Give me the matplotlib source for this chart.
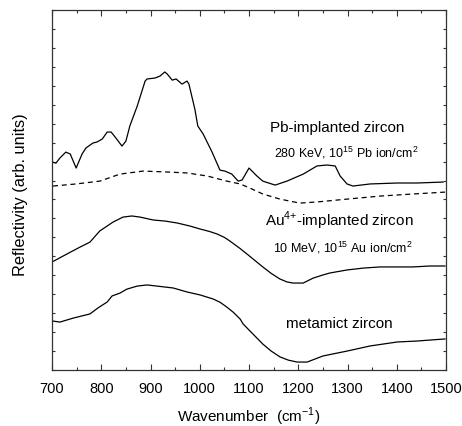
import numpy as np
import matplotlib.pyplot as plt
from matplotlib.ticker import MultipleLocator, NullFormatter

plt.rcParams['font.family'] = ['Liberation Sans', 'DejaVu Sans']
plt.rcParams['mathtext.fontset'] = 'custom'
plt.rcParams['mathtext.rm'] = 'Liberation Sans'

# Pb-implanted zircon (280 keV)
pb_wn = [700, 708, 716, 728, 737, 749, 761, 769, 783, 791, 802, 812, 820, 828,
         842, 850, 858, 873, 889, 893, 909, 919, 929, 934, 944, 952, 964, 974,
         978, 990, 996, 1007, 1025, 1041, 1051, 1065, 1078, 1086, 1100, 1116,
         1128, 1153, 1177, 1210, 1238, 1258, 1275, 1285, 1299, 1311, 1346,
         1401, 1441, 1494]
pb_r = [10.98, 10.92, 11.19, 11.50, 11.40, 10.66, 11.40, 11.72, 11.98, 12.03,
        12.19, 12.56, 12.56, 12.30, 11.82, 12.08, 12.88, 13.93, 15.25, 15.36,
        15.41, 15.51, 15.73, 15.62, 15.30, 15.36, 15.09, 15.25, 15.09, 13.77,
        12.88, 12.45, 11.50, 10.55, 10.50, 10.34, 9.97, 10.03, 10.66, 10.24,
        9.97, 9.76, 9.97, 10.34, 10.77, 10.82, 10.77, 10.24, 9.82, 9.71, 9.82,
        9.87, 9.87, 9.92]

# dashed reference curve
ref_wn = [702, 749, 797, 838, 885, 934, 974, 1015, 1055, 1082, 1102, 1128,
          1163, 1203, 1238, 1299, 1366, 1433, 1498]
ref_r = [9.71, 9.82, 9.97, 10.34, 10.50, 10.45, 10.40, 10.24, 9.97, 9.82, 9.60,
         9.29, 9.02, 8.81, 8.87, 9.02, 9.18, 9.29, 9.39]

# Au4+-implanted zircon (10 MeV)
au_wn = [700, 730, 757, 777, 797, 812, 824, 844, 862, 879, 905, 930, 954, 980,
         1001, 1020, 1035, 1050, 1061, 1080, 1096, 1112, 1128, 1145, 1163,
         1177, 1189, 1210, 1230, 1248, 1264, 1299, 1332, 1366, 1401, 1433,
         1467, 1498]
au_r = [5.70, 6.12, 6.49, 6.75, 7.34, 7.60, 7.81, 8.07, 8.13, 8.07, 7.92, 7.86,
        7.76, 7.60, 7.44, 7.31, 7.18, 7.00, 6.81, 6.45, 6.12, 5.78, 5.44, 5.10,
        4.80, 4.65, 4.59, 4.59, 4.85, 5.00, 5.12, 5.28, 5.38, 5.44, 5.44, 5.44,
        5.49, 5.49]

# metamict zircon
mz_wn = [700, 716, 743, 777, 793, 812, 822, 838, 852, 873, 893, 913, 946, 974,
         1001, 1027, 1041, 1055, 1068, 1082, 1088, 1108, 1128, 1145, 1163,
         1180, 1198, 1218, 1250, 1299, 1346, 1401, 1441, 1498]
mz_r = [2.59, 2.53, 2.74, 2.96, 3.27, 3.59, 3.91, 4.06, 4.27, 4.43, 4.49, 4.43,
        4.33, 4.12, 3.96, 3.75, 3.58, 3.32, 3.05, 2.69, 2.43, 1.90, 1.37, 1.00,
        0.69, 0.52, 0.42, 0.42, 0.74, 1.00, 1.27, 1.48, 1.53, 1.64]

fig = plt.figure(figsize=(4.62, 4.27), dpi=100)
ax = fig.add_axes([0.1126, 0.1311, 0.8528, 0.8431])

lw = 0.9
ax.plot(pb_wn, pb_r, color='black', lw=lw)
ax.plot(ref_wn, ref_r, color='black', lw=lw, ls=(0, (4, 3)))
ax.plot(au_wn, au_r, color='black', lw=lw)
ax.plot(mz_wn, mz_r, color='black', lw=lw)

ax.set_xlim(700, 1500)
ax.set_ylim(0, 19)
ax.xaxis.set_major_locator(MultipleLocator(100))
ax.xaxis.set_minor_locator(MultipleLocator(50))
ax.yaxis.set_major_locator(MultipleLocator(1))
ax.yaxis.set_major_formatter(NullFormatter())
ax.tick_params(which='both', direction='in', top=True, right=True,
               color='#333333', width=0.8)
ax.tick_params(which='major', length=4, labelsize=10.5)
ax.tick_params(axis='x', which='major', pad=8)
ax.tick_params(axis='x', which='minor', length=2.5)
ax.tick_params(axis='y', length=2.5)
for s in ax.spines.values():
    s.set_color('#333333')
    s.set_linewidth(0.9)

ax.set_xlabel('Wavenumber  (cm$^{-1}$)', fontsize=11, labelpad=7)
ax.set_ylabel('Reflectivity (arb. units)', fontsize=11.8)
ax.yaxis.set_label_coords(-0.062, 0.49)

tkw = dict(ha='center', va='center', color='black')
ax.text(1280, 12.8, 'Pb-implanted zircon', fontsize=11, **tkw)
ax.text(1297, 11.5, '280 KeV, 10$^{15}$ Pb ion/cm$^2$', fontsize=9, **tkw)
ax.text(1284, 7.9, 'Au$^{4{+}}$-implanted zircon', fontsize=11, **tkw)
ax.text(1291, 6.5, '10 MeV, 10$^{15}$ Au ion/cm$^2$', fontsize=9, **tkw)
ax.text(1284, 2.5, 'metamict zircon', fontsize=11, **tkw)

fig.savefig('out.png', dpi=100)
